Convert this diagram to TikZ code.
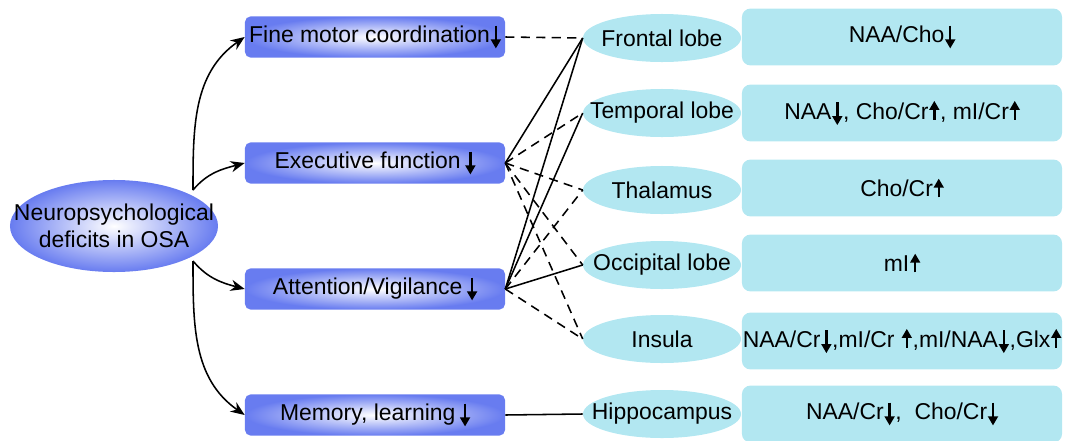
\documentclass[tikz,border=0pt]{standalone}
\usepackage{fontspec}
\setmainfont{Liberation Sans}
\usetikzlibrary{arrows.meta,shapes.geometric}

\definecolor{deficitblue}{RGB}{104,124,240}
\definecolor{regioncyan}{RGB}{178,231,241}

% kleine Pfeile im Text
\newcommand{\arrdown}{\hspace{0.04em}\tikz[baseline=0pt]\draw[line width=1.7pt,-{Stealth[length=6.5pt,width=7pt,inset=0pt]}] (0,0.74em) -- (0,-0.26em);\hspace{0.04em}}
\newcommand{\arrup}{\hspace{0.04em}\tikz[baseline=0pt]\draw[line width=1.7pt,-{Stealth[length=6.5pt,width=7pt,inset=0pt]}] (0,-0.02em) -- (0,0.8em);\hspace{0.04em}}

\tikzset{
  txt/.style={font=\fontsize{16.3}{19}\selectfont},
  deficit/.style={rectangle, rounded corners=4pt, inner color=white, outer color=deficitblue, minimum width=6.5cm, minimum height=1.03cm, inner sep=0pt, txt},
  neuro/.style={ellipse, inner color=white, outer color=deficitblue, minimum width=5.2cm, minimum height=2.3cm, inner sep=0pt},
  region/.style={ellipse, fill=regioncyan, minimum width=3.95cm, minimum height=1.2cm, inner xsep=-0.5cm, inner ysep=0pt, txt},
  finding/.style={rectangle, rounded corners=6pt, fill=regioncyan, minimum width=8cm, minimum height=1.42cm, inner sep=0pt, txt},
  link/.style={line width=1.1pt},
  dlink/.style={line width=1.1pt, dash pattern=on 6.5pt off 4.5pt},
  pfeil/.style={line width=1.1pt, -{Stealth[length=10pt,width=8pt]}}
}

\begin{document}
\begin{tikzpicture}[x=0.025cm, y=-0.025cm]

\useasboundingbox (0,0) rectangle (1073,441);

%Ursache
\node[neuro] (osa) at (114,226) {};
\node[txt, align=center] (osatext) at (osa.center) {Neuropsychological\\deficits in OSA};
\coordinate (osaup) at (193,190);
\coordinate (osadown) at (193,261);

%Defizite
\node[deficit] (fine) at (375,37) {Fine motor coordination\arrdown};
\node[deficit] (exec) at (375,163) {Executive function\,\arrdown};
\node[deficit] (attn) at (375,289) {Attention/Vigilance\,\arrdown};
\node[deficit] (mem) at (375,415) {Memory, learning\,\arrdown};

%Hirnregionen
\node[region] (frontal) at (662,38) {Frontal lobe};
\node[region] (temporal) at (662,113) {Temporal lobe};
\node[region] (thalamus) at (662,190) {Thalamus};
\node[region] (occipital) at (662,265) {Occipital lobe};
\node[region] (insula) at (662,339) {Insula};
\node[region] (hippo) at (662,414) {Hippocampus};

%Befunde
\node[finding] (f1) at (902,37) {NAA/Cho\arrdown};
\node[finding] (f2) at (902,113) {NAA\arrdown, Cho/Cr\arrup, mI/Cr\arrup};
\node[finding] (f3) at (902,188) {Cho/Cr\arrup};
\node[finding] (f4) at (902,263) {mI\arrup};
\node[finding] (f5) at (902,341) {NAA/Cr\arrdown,mI/Cr \arrup,mI/NAA\arrdown,Glx\arrup};
\node[finding] (f6) at (902,414) {NAA/Cr\arrdown,\ \ Cho/Cr\arrdown};

%Pfeile
\draw[pfeil] (osaup) to[out=90, in=215] (fine.west);
\draw[pfeil] (osaup) to[out=50, in=195] (exec.west);
\draw[pfeil] (osadown) to[out=-50, in=165] (attn.west);
\draw[pfeil] (osadown) to[out=-90, in=145] (mem.west);

%Verbindungen
\draw[dlink] (fine.east) -- (frontal.west);

\draw[link] (exec.east) -- (frontal.west);
\draw[dlink] (exec.east) -- (temporal.west);
\draw[dlink] (exec.east) -- (thalamus.west);
\draw[dlink] (exec.east) -- (occipital.west);
\draw[dlink] (exec.east) -- (insula.west);

\draw[link] (attn.east) -- (frontal.west);
\draw[link] (attn.east) -- (temporal.west);
\draw[dlink] (attn.east) -- (thalamus.west);
\draw[link] (attn.east) -- (occipital.west);
\draw[dlink] (attn.east) -- (insula.west);

\draw[link] (mem.east) -- (hippo.west);

\end{tikzpicture}
\end{document}
